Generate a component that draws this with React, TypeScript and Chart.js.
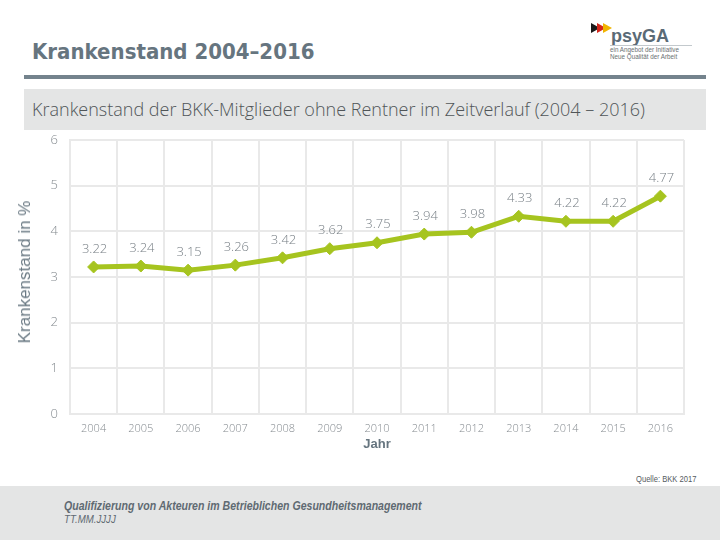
import React, { useEffect, useRef } from "react";
import { Chart, registerables } from "chart.js";

Chart.register(...registerables);

// Krankenstand der BKK-Mitglieder (ohne Rentner), in Prozent
const years = ["2004", "2005", "2006", "2007", "2008", "2009", "2010", "2011", "2012", "2013", "2014", "2015", "2016"];
const sickRate = [3.22, 3.24, 3.15, 3.26, 3.42, 3.62, 3.75, 3.94, 3.98, 4.33, 4.22, 4.22, 4.77];
const yTicks = [0, 1, 2, 3, 4, 5, 6];

const LINE_GREEN = "#a6c41f";
const GRID_GREY = "#e9e9e9";
const SLATE = "#66757f";

// Writes each value above its point
const valueLabels = {
  id: "valueLabels",
  afterDatasetsDraw(chart: any) {
    const { ctx } = chart;
    const meta = chart.getDatasetMeta(0);
    const data = chart.data.datasets[0].data as number[];
    ctx.save();
    ctx.font = '300 13px "Open Sans", sans-serif';
    ctx.fillStyle = "#777f85";
    ctx.textAlign = "center";
    ctx.textBaseline = "middle";
    meta.data.forEach((pt: any, i: number) => {
      ctx.fillText(data[i].toFixed(2), pt.x + 1, pt.y - 18);
    });
    ctx.restore();
  },
};

function TrendChart() {
  const ref = useRef<HTMLCanvasElement>(null);
  useEffect(() => {
    if (!ref.current) return;
    const chart = new Chart(ref.current, {
      type: "line",
      data: {
        labels: years,
        datasets: [
          {
            data: sickRate,
            borderColor: LINE_GREEN,
            backgroundColor: LINE_GREEN,
            borderWidth: 5,
            pointStyle: "rectRot",
            pointRadius: 6,
            pointBackgroundColor: LINE_GREEN,
            pointBorderColor: LINE_GREEN,
            pointBorderWidth: 1,
            tension: 0,
            fill: false,
          },
        ],
      },
      options: {
        animation: false,
        responsive: false,
        layout: { padding: { top: 10, right: 36, left: 0, bottom: 0 } },
        plugins: { legend: { display: false }, tooltip: { enabled: false } },
        scales: {
          x: {
            offset: true,
            grid: { offset: true, color: GRID_GREY, lineWidth: 2, drawTicks: false },
            border: { color: GRID_GREY, width: 2 },
            ticks: {
              padding: 8,
              color: "#858b90",
              font: { family: '"Open Sans", sans-serif', size: 11, weight: "300" as any },
            },
            title: {
              display: true,
              text: "Jahr",
              color: SLATE,
              font: { family: '"Liberation Sans", Arial, sans-serif', size: 13, weight: "bold" },
              padding: { top: 0, bottom: 8 },
            },
            afterFit(scale: any) {
              scale.height = 46;
              scale.paddingLeft = 0;
              scale.paddingRight = 0;
            },
          },
          y: {
            min: 0,
            max: 6,
            afterBuildTicks(scale: any) {
              scale.ticks = yTicks.map((v) => ({ value: v }));
            },
            grid: { color: GRID_GREY, lineWidth: 2, drawTicks: false },
            border: { color: GRID_GREY, width: 2 },
            ticks: {
              padding: 12,
              color: "#858b90",
              font: { family: '"Open Sans", sans-serif', size: 13, weight: "300" as any },
            },
            afterFit(scale: any) {
              scale.width = 70;
              scale.paddingTop = 0;
              scale.paddingBottom = 0;
            },
          },
        },
      },
      plugins: [valueLabels],
    });
    return () => chart.destroy();
  }, []);
  return (
    <canvas
      ref={ref}
      width={720}
      height={330}
      style={{ position: "absolute", left: 0, top: 130, width: 720, height: 330 }}
    />
  );
}

function Logo() {
  const tri = (color: string, left: number) => (
    <div
      style={{
        position: "absolute",
        left,
        top: 0,
        width: 0,
        height: 0,
        borderTop: "5px solid transparent",
        borderBottom: "5px solid transparent",
        borderLeft: `9px solid ${color}`,
      }}
    />
  );
  return (
    <div style={{ position: "absolute", left: 590, top: 22, width: 110, height: 45 }}>
      <div style={{ position: "absolute", left: 1, top: 1, width: 24, height: 10 }}>
        {tri("#1a1a1a", 0)}
        {tri("#d4271c", 6)}
        {tri("#f0b400", 12)}
      </div>
      <div
        style={{
          position: "absolute",
          left: 21,
          top: 5,
          fontFamily: '"Liberation Sans", Arial, sans-serif',
          fontWeight: "bold",
          fontSize: 18,
          color: "#5a6a76",
          lineHeight: "18px",
        }}
      >
        psyGA
      </div>
      <div
        style={{
          position: "absolute",
          left: 20,
          top: 23,
          width: 82,
          height: 1,
          background: "#c3c9cd",
        }}
      />
      <div
        style={{
          position: "absolute",
          left: 20,
          top: 24,
          fontFamily: '"Liberation Sans", Arial, sans-serif',
          fontSize: 6.3,
          color: "#6a6f73",
          lineHeight: "7px",
          whiteSpace: "nowrap",
        }}
      >
        ein Angebot der Initiative
        <br />
        Neue Qualität der Arbeit
      </div>
    </div>
  );
}

export default function App() {
  return (
    <div
      style={{
        position: "absolute",
        left: 0,
        top: 0,
        width: 720,
        height: 540,
        background: "#ffffff",
        overflow: "hidden",
      }}
    >
      <div
        style={{
          position: "absolute",
          left: 32,
          top: 38,
          fontFamily: '"DejaVu Sans Condensed", "DejaVu Sans", sans-serif',
          fontStretch: "condensed",
          fontWeight: "bold",
          fontSize: 22,
          color: SLATE,
          whiteSpace: "nowrap",
          lineHeight: "28px",
        }}
      >
        Krankenstand 2004–2016
      </div>
      <Logo />
      <div style={{ position: "absolute", left: 24, top: 75, width: 682, height: 4, background: "#74838d" }} />
      <div style={{ position: "absolute", left: 24, top: 89, width: 682, height: 41, background: "#e4e5e5" }} />
      <div
        style={{
          position: "absolute",
          left: 32,
          top: 96,
          fontFamily: '"Open Sans", sans-serif',
          fontWeight: 300,
          fontSize: 18,
          color: "#505558",
          whiteSpace: "nowrap",
          lineHeight: "26px",
        }}
      >
        Krankenstand der BKK-Mitglieder ohne Rentner im Zeitverlauf (2004 – 2016)
      </div>
      <TrendChart />
      <div
        style={{
          position: "absolute",
          left: 25,
          top: 272,
          transform: "translate(-50%, -50%) rotate(-90deg)",
          fontFamily: '"Liberation Sans", Arial, sans-serif',
          fontSize: 17,
          color: "#6b7a84",
          whiteSpace: "nowrap",
          lineHeight: "20px",
        }}
      >
        Krankenstand in %
      </div>
      <div
        style={{
          position: "absolute",
          left: 636,
          top: 473,
          fontFamily: '"Liberation Sans", sans-serif',
          fontSize: 9.5,
          color: "#555a5e",
          whiteSpace: "nowrap",
          lineHeight: "12px",
          transform: "scaleX(0.8)",
          transformOrigin: "left center",
        }}
      >
        Quelle: BKK 2017
      </div>
      <div style={{ position: "absolute", left: 0, top: 486, width: 720, height: 54, background: "#e4e5e5" }} />
      <div
        style={{
          position: "absolute",
          left: 64,
          top: 500,
          fontFamily: '"Liberation Sans", sans-serif',
          fontStyle: "italic",
          fontWeight: "bold",
          fontSize: 12,
          color: "#5f6a72",
          whiteSpace: "nowrap",
          lineHeight: "13px",
          transform: "scaleX(0.88)",
          transformOrigin: "left center",
        }}
      >
        Qualifizierung von Akteuren im Betrieblichen Gesundheitsmanagement
        <br />
        <span style={{ fontWeight: "normal", fontSize: 11 }}>TT.MM.JJJJ</span>
      </div>
    </div>
  );
}
